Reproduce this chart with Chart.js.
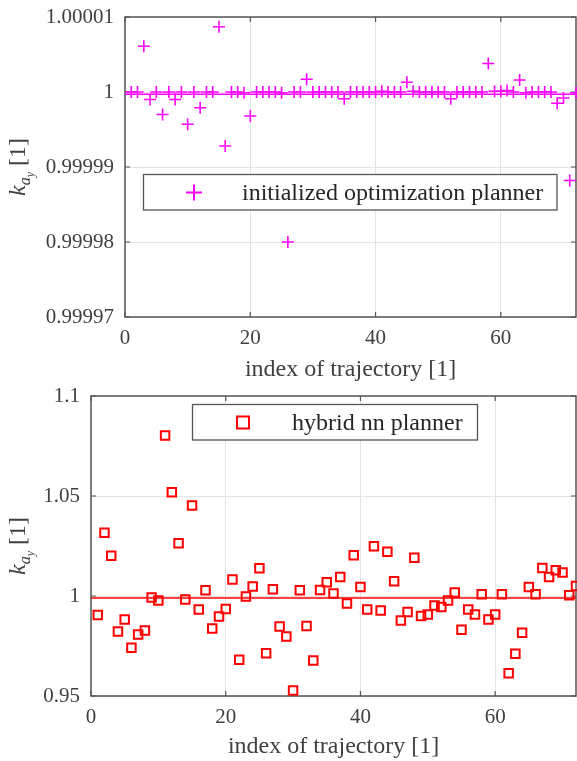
<!DOCTYPE html>
<html>
<head>
<meta charset="utf-8">
<script src="https://cdn.jsdelivr.net/npm/chart.js@4.4.1/dist/chart.umd.min.js"></script>
<style>
  body { margin: 0; background: #fff; }
  canvas { position: absolute; left: 0; }
</style>
</head>
<body>
<canvas id="top-chart" width="577" height="385" style="top:0px"></canvas>
<canvas id="bottom-chart" width="577" height="376" style="top:385px"></canvas>
<script>
// trajectory index (x) shared by both panels
const trajectoryIndex = [
  1, 2, 3, 4, 5, 6, 7, 8, 9, 10, 11, 12, 13, 14, 15, 16, 17, 18,
  19, 20, 21, 22, 23, 24, 25, 26, 27, 28, 29, 30, 31, 32, 33, 34, 35, 36,
  37, 38, 39, 40, 41, 42, 43, 44, 45, 46, 47, 48, 49, 50, 51, 52, 53, 54,
  55, 56, 57, 58, 59, 60, 61, 62, 63, 64, 65, 66, 67, 68, 69, 70, 71, 72
];

// k_ay, initialized optimization planner
const initOptPlanner = [
  1, 1, 1.0000061, 0.999999, 1, 0.999997, 1, 0.999999, 1, 0.9999957, 1, 0.9999979,
  1, 1, 1.0000087, 0.9999928, 1, 1, 0.9999999, 0.9999968, 1, 1, 1, 1,
  0.9999999, 0.99998, 1, 1, 1.0000017, 1, 1, 1, 1, 1, 0.9999991, 1,
  1, 1, 1, 1, 1.0000001, 1, 1, 1, 1.0000013, 1.0000001, 1, 1,
  1, 1, 1, 0.9999991, 1, 1, 1, 1, 1, 1.0000038, 1.0000001, 1.0000001,
  1.0000002, 1, 1.0000016, 0.9999999, 1, 1, 1, 1, 0.9999985, 0.9999992, 0.9999882, 0.9999999
];

// k_ay, hybrid nn planner
const hybridNnPlanner = [
  0.9905, 1.0316, 1.0201, 0.9823, 0.9883, 0.9741, 0.9808, 0.9828, 0.9992, 0.9977, 1.0802, 1.0519,
  1.0264, 0.9983, 1.0453, 0.9932, 1.0029, 0.9837, 0.9898, 0.9935, 1.0082, 0.9681, 0.9998, 1.0047,
  1.0139, 0.9714, 1.0034, 0.9848, 0.9798, 0.9527, 1.0029, 0.9850, 0.9678, 1.0030, 1.0069, 1.0012,
  1.0095, 0.9962, 1.0204, 1.0045, 0.9933, 1.0249, 0.9928, 1.0221, 1.0074, 0.9878, 0.9920, 1.0191,
  0.9900, 0.9907, 0.9953, 0.9945, 0.9978, 1.0017, 0.9831, 0.9933, 0.9908, 1.0009, 0.9882, 0.9908,
  1.0009, 0.9614, 0.9711, 0.9816, 1.0045, 1.0009, 1.0140, 1.0095, 1.0129, 1.0117, 1.0004, 1.0050
];

// horizontal reference lines
const levelRange = [0, 72];
const initOptLevel = 0.9999997;
const hybridNnLevel = 0.999;

// ticks
const xTicks = [0, 20, 40, 60];
const yTicksTop = [0.99997, 0.99998, 0.99999, 1, 1.00001];
const yTickLabelsTop = ['0.99997', '0.99998', '0.99999', '1', '1.00001'];
const yTicksBottom = [0.95, 1, 1.05, 1.1];
const yTickLabelsBottom = ['0.95', '1', '1.05', '1.1'];

const SERIF = "'Liberation Serif', 'Times New Roman', serif";
const AXIS_COLOR = '#555555';
const TEXT_COLOR = '#404040';

// box + inward tick marks like matlab
const axesFrame = {
    id: 'axesFrame',
    beforeDatasetsDraw(chart) {
        const { ctx, chartArea: a, scales: { x, y } } = chart;
        const len = 5;
        ctx.save();
        ctx.strokeStyle = AXIS_COLOR;
        ctx.lineWidth = 1.2;
        ctx.beginPath();
        x.ticks.forEach(t => {
            const px = x.getPixelForValue(t.value);
            ctx.moveTo(px, a.bottom); ctx.lineTo(px, a.bottom - len);
            ctx.moveTo(px, a.top); ctx.lineTo(px, a.top + len);
        });
        y.ticks.forEach(t => {
            const py = y.getPixelForValue(t.value);
            ctx.moveTo(a.left, py); ctx.lineTo(a.left + len, py);
            ctx.moveTo(a.right, py); ctx.lineTo(a.right - len, py);
        });
        ctx.stroke();
        ctx.lineWidth = 1.5;
        ctx.strokeRect(a.left, a.top, a.right - a.left, a.bottom - a.top);
        ctx.restore();
    }
};

// legend box inside the axes + y label k_{a_y} [1]
const panelText = {
    id: 'panelText',
    afterDraw(chart, args, opts) {
        const { ctx, chartArea: a } = chart;
        ctx.save();

        // legend
        const [x1, y1, x2, y2] = opts.box;
        ctx.fillStyle = '#fff';
        ctx.fillRect(x1, y1, x2 - x1, y2 - y1);
        ctx.strokeStyle = AXIS_COLOR;
        ctx.lineWidth = 1.3;
        ctx.strokeRect(x1, y1, x2 - x1, y2 - y1);
        const [mx, my] = opts.marker;
        ctx.strokeStyle = opts.color;
        ctx.lineWidth = 2;
        ctx.beginPath();
        if (opts.markerStyle === 'cross') {
            ctx.moveTo(mx - 8, my); ctx.lineTo(mx + 8, my);
            ctx.moveTo(mx, my - 8); ctx.lineTo(mx, my + 8);
            ctx.stroke();
        } else {
            ctx.strokeRect(mx - 6, my - 6, 12, 12);
        }
        ctx.fillStyle = '#262626';
        ctx.font = '24px ' + SERIF;
        ctx.textAlign = 'left';
        ctx.textBaseline = 'middle';
        ctx.fillText(opts.label, opts.textX, my + 1);

        // rotated y label
        const cy = (a.top + a.bottom) / 2;
        const parts = [
            { t: 'k', f: 'italic 24px ' + SERIF, dy: 0 },
            { t: 'a', f: 'italic 16px ' + SERIF, dy: 5 },
            { t: 'y', f: 'italic 12px ' + SERIF, dy: 9 },
            { t: ' [1]', f: '24px ' + SERIF, dy: 0 }
        ];
        let total = 0;
        parts.forEach(p => { ctx.font = p.f; p.w = ctx.measureText(p.t).width; total += p.w; });
        ctx.translate(opts.yLabelX, cy);
        ctx.rotate(-Math.PI / 2);
        ctx.fillStyle = TEXT_COLOR;
        ctx.textBaseline = 'alphabetic';
        let cx = -total / 2;
        parts.forEach(p => {
            ctx.font = p.f;
            ctx.fillText(p.t, cx, p.dy);
            cx += p.w;
        });
        ctx.restore();
    }
};

function makePanel(canvasId, cfg) {
    const points = trajectoryIndex.map((t, i) => ({ x: t, y: cfg.values[i] }));
    const level = levelRange.map(t => ({ x: t, y: cfg.level }));

    return new Chart(document.getElementById(canvasId), {
        type: 'scatter',
        data: {
            datasets: [
                {
                    label: cfg.label,
                    data: points,
                    pointStyle: cfg.markerStyle,
                    pointRadius: 6,
                    pointBorderWidth: cfg.markerWidth,
                    borderColor: cfg.color,
                    backgroundColor: 'rgba(0,0,0,0)',
                    clip: false
                },
                {
                    label: 'level',
                    data: level,
                    showLine: true,
                    pointRadius: 0,
                    borderColor: cfg.color,
                    borderWidth: 1.3
                }
            ]
        },
        options: {
            responsive: false,
            animation: false,
            devicePixelRatio: 1,
            events: [],
            layout: { padding: cfg.padding, autoPadding: false },
            plugins: {
                legend: { display: false },
                tooltip: { enabled: false },
                panelText: {
                    box: cfg.legendBox,
                    marker: cfg.legendMarker,
                    textX: cfg.legendTextX,
                    label: cfg.label,
                    markerStyle: cfg.markerStyle,
                    color: cfg.color,
                    yLabelX: 25
                }
            },
            scales: {
                x: {
                    type: 'linear',
                    min: levelRange[0],
                    max: levelRange[1],
                    afterBuildTicks: s => { s.ticks = xTicks.map(v => ({ value: v })); },
                    afterFit: s => {
                        s.height = cfg.xAxisHeight;
                        s.paddingLeft = 0;
                        s.paddingRight = 0;
                    },
                    grid: { color: '#e3e3e3', lineWidth: 1, drawTicks: false },
                    border: { display: false },
                    ticks: {
                        color: TEXT_COLOR,
                        font: { family: SERIF, size: 21 },
                        padding: 9,
                        maxRotation: 0,
                        autoSkip: false
                    },
                    title: {
                        display: true,
                        text: 'index of trajectory [1]',
                        color: TEXT_COLOR,
                        font: { family: SERIF, size: 24 },
                        padding: { top: 0, bottom: cfg.xTitlePad }
                    }
                },
                y: {
                    min: cfg.yTicks[0],
                    max: cfg.yTicks[cfg.yTicks.length - 1],
                    afterBuildTicks: s => { s.ticks = cfg.yTicks.map(v => ({ value: v })); },
                    afterFit: s => {
                        s.width = cfg.yAxisWidth;
                        s.paddingTop = 0;
                        s.paddingBottom = 0;
                    },
                    grid: { color: '#e3e3e3', lineWidth: 1, drawTicks: false },
                    border: { display: false },
                    ticks: {
                        color: TEXT_COLOR,
                        font: { family: SERIF, size: 21 },
                        padding: 11,
                        callback: (v, i) => cfg.yTickLabels[i]
                    }
                }
            }
        },
        plugins: [axesFrame, panelText]
    });
}

makePanel('top-chart', {
    values: initOptPlanner,
    level: initOptLevel,
    label: 'initialized optimization planner',
    color: '#ff00ff',
    markerStyle: 'cross',
    markerWidth: 1.6,
    yTicks: yTicksTop,
    yTickLabels: yTickLabelsTop,
    padding: { left: 0, right: 1, top: 17, bottom: 0 },
    yAxisWidth: 125,
    xAxisHeight: 68,
    xTitlePad: 1,
    legendBox: [143.5, 174.5, 557, 210],
    legendMarker: [194, 192.5],
    legendTextX: 242
});

makePanel('bottom-chart', {
    values: hybridNnPlanner,
    level: hybridNnLevel,
    label: 'hybrid nn planner',
    color: '#ff0000',
    markerStyle: 'rect',
    markerWidth: 2,
    yTicks: yTicksBottom,
    yTickLabels: yTickLabelsBottom,
    padding: { left: 0, right: 1, top: 11, bottom: 0 },
    yAxisWidth: 91,
    xAxisHeight: 65,
    xTitlePad: 0,
    legendBox: [192.5, 19.5, 477.5, 55],
    legendMarker: [243, 37.5],
    legendTextX: 292
});
</script>
</body>
</html>
